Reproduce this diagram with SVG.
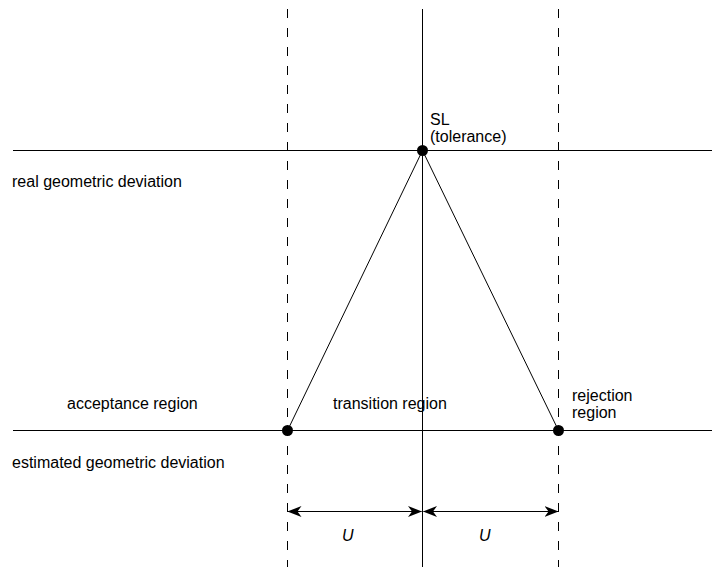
<svg xmlns="http://www.w3.org/2000/svg" width="712" height="567" viewBox="0 0 712 567">
<style>
text{font-family:"Liberation Sans",Arial,sans-serif;font-size:16px;fill:#000}
.ln{stroke:#000;stroke-width:1;fill:none}
.dash{stroke:#000;stroke-width:1;stroke-dasharray:9 10;fill:none}
.dot{fill:#000}
</style>
<defs>
<marker id="ah" viewBox="0 0 14 12" refX="13.5" refY="6" markerWidth="14" markerHeight="12" markerUnits="userSpaceOnUse" orient="auto-start-reverse">
<path d="M0,0.5 L14,6 L0,11.5 L4,6 Z" fill="#000"/>
</marker>
</defs>
<rect width="712" height="567" fill="#fff"/>
<g id="connectors">
<line class="dash" x1="287.5" y1="9" x2="287.5" y2="567"/>
<line class="dash" x1="558.5" y1="9" x2="558.5" y2="567"/>
<line class="ln" x1="422.5" y1="9" x2="422.5" y2="567"/>
<line class="ln" x1="13" y1="150.5" x2="712" y2="150.5"/>
<line class="ln" x1="13" y1="430.5" x2="712" y2="430.5"/>
<line class="ln" x1="422.5" y1="150.5" x2="287.5" y2="430.5"/>
<line class="ln" x1="422.5" y1="150.5" x2="558.5" y2="430.5"/>
<line class="ln" x1="288" y1="511.5" x2="421.5" y2="511.5" marker-start="url(#ah)" marker-end="url(#ah)"/>
<line class="ln" x1="423.5" y1="511.5" x2="558" y2="511.5" marker-start="url(#ah)" marker-end="url(#ah)"/>
</g>
<g id="sl"><circle class="dot" cx="422.5" cy="150.5" r="5.5"/><text x="430" y="125">SL</text><text x="430" y="142">(tolerance)</text></g>
<g id="p-accept"><circle class="dot" cx="287.5" cy="430.5" r="5.5"/></g>
<g id="p-reject"><circle class="dot" cx="558.5" cy="430.5" r="5.5"/></g>
<g id="label-real"><text x="12" y="187">real geometric deviation</text></g>
<g id="label-est"><text x="12" y="468">estimated geometric deviation</text></g>
<g id="label-accept"><text x="67" y="409">acceptance region</text></g>
<g id="label-trans"><text x="333" y="409">transition region</text></g>
<g id="label-reject"><text x="572" y="401">rejection</text><text x="572" y="418">region</text></g>
<g id="u1"><text x="342" y="541" font-style="italic">U</text></g>
<g id="u2"><text x="479" y="541" font-style="italic">U</text></g>
</svg>
